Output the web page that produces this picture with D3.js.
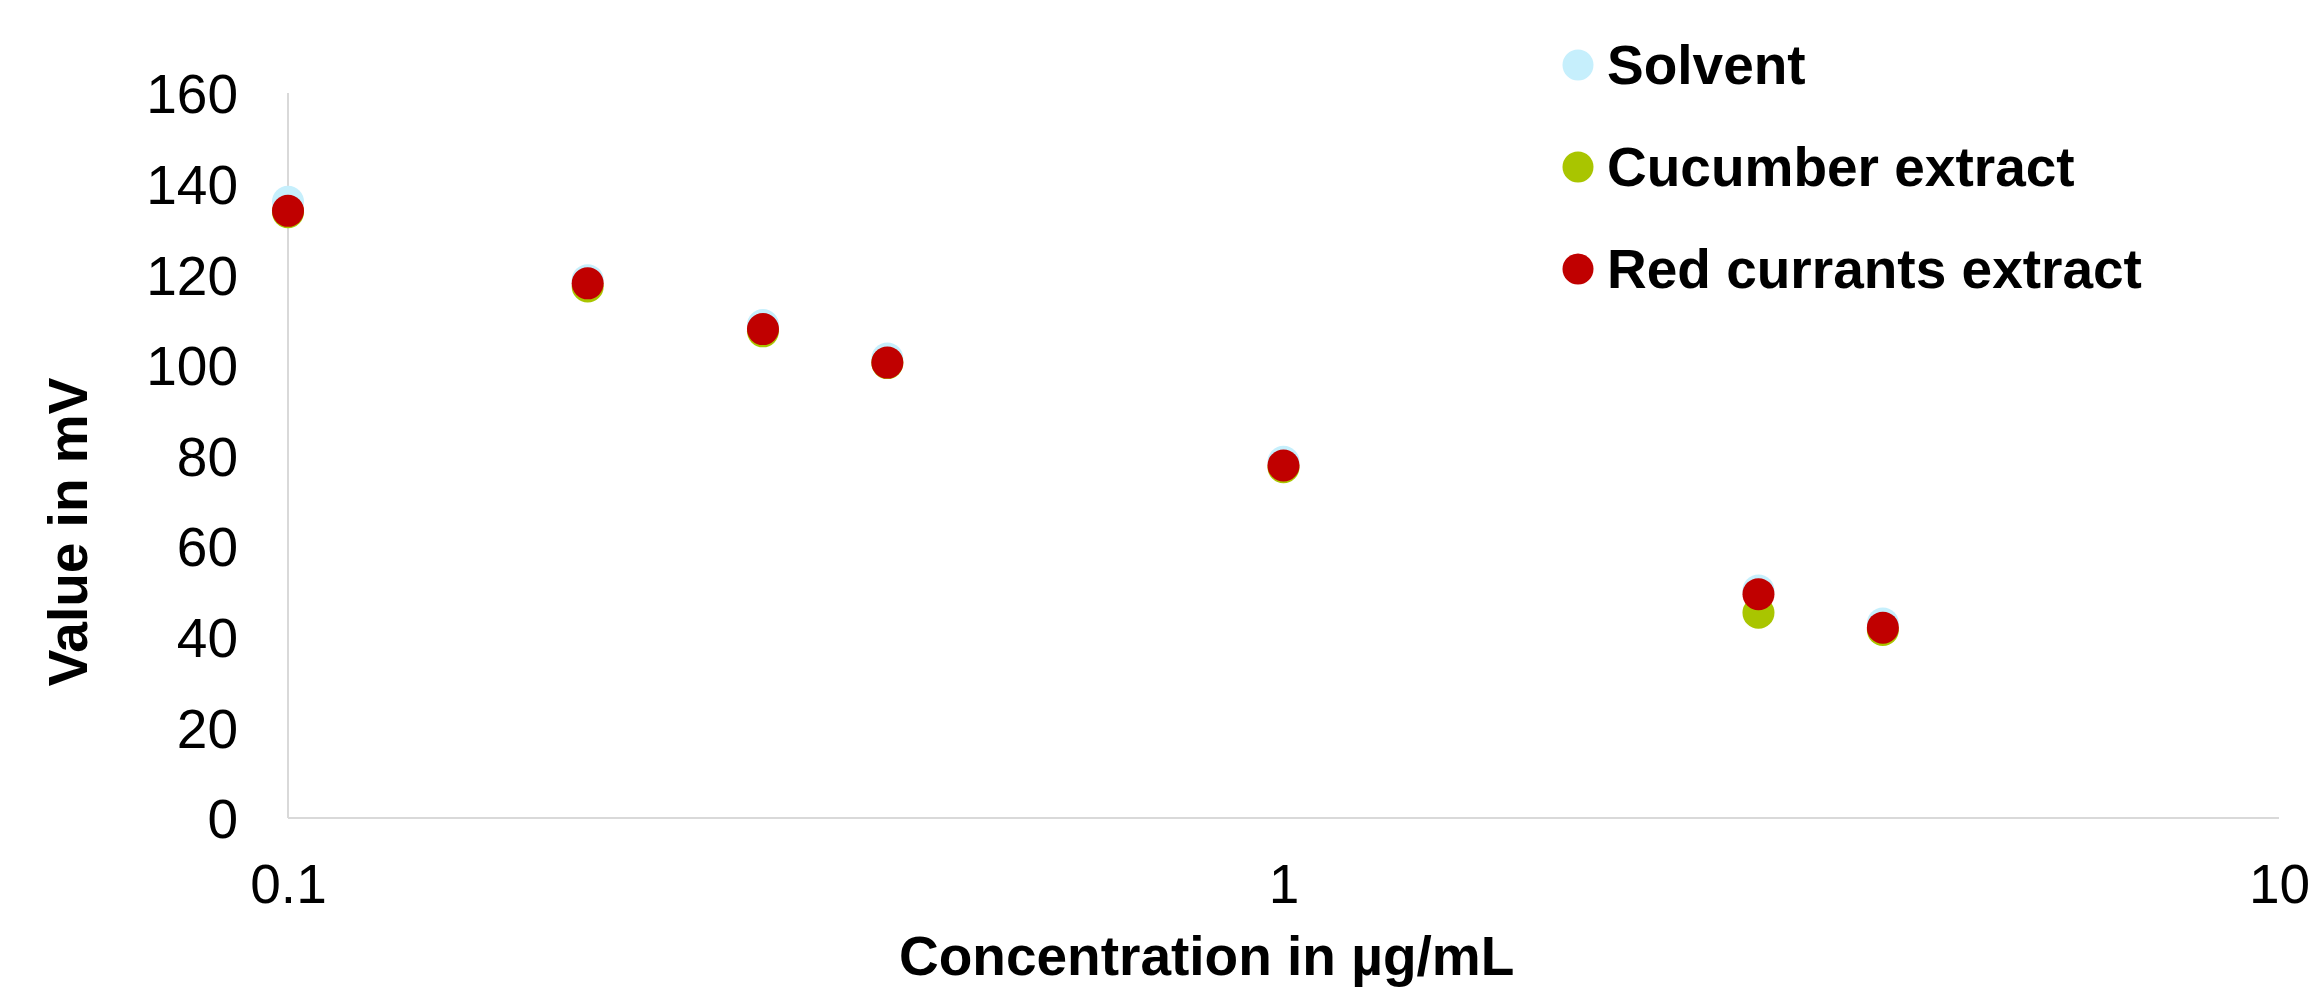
<!DOCTYPE html>
<html>
<head>
<meta charset="utf-8">
<script src="https://cdn.jsdelivr.net/npm/d3@7/dist/d3.min.js"></script>
<style>
  html, body { margin: 0; padding: 0; background: #fff; }
  svg { display: block; font-family: "Liberation Sans", Arial, sans-serif; }
</style>
</head>
<body>
<svg id="chart" width="2314" height="988"></svg>
<script>
const concentrations = [0.1, 0.2, 0.3, 0.4, 1, 3, 4];
const solventValues  = [136.0, 118.7, 108.8, 101.4, 78.6, 50.2, 42.9];
const cucumberValues = [133.7, 117.3, 107.4, 100.4, 77.4, 45.3, 41.5];
const redCurrantValues = [134.0, 118.0, 107.9, 100.5, 77.8, 49.4, 42.0];
const seriesNames = ["Solvent", "Cucumber extract", "Red currants extract"];
const seriesColors = ["#C6EFFC", "#A9C500", "#C00000"];
const xTickValues = [0.1, 1, 10];
const xTickLabels = ["0.1", "1", "10"];
const yTickValues = [0, 20, 40, 60, 80, 100, 120, 140, 160];

(function () {
const svg = d3.select("#chart");
const mLeft = 288, mRight = 2279, mTop = 93, mBottom = 818;

const x = d3.scaleLog().domain([0.1, 10]).range([mLeft, mRight]);
const y = d3.scaleLinear().domain([0, 160]).range([mBottom, mTop]);

// axes lines
svg.append("line").attr("x1", mLeft).attr("x2", mLeft).attr("y1", y(160)).attr("y2", y(0))
  .attr("stroke", "#d9d9d9").attr("stroke-width", 2);
svg.append("line").attr("x1", x(0.1)).attr("x2", x(10)).attr("y1", mBottom).attr("y2", mBottom)
  .attr("stroke", "#d9d9d9").attr("stroke-width", 2);

// y tick labels
const yAxis = d3.axisLeft(y).tickValues(yTickValues).tickSize(0).tickPadding(50);
const gy = svg.append("g").attr("transform", `translate(${mLeft},0)`).call(yAxis);
gy.select(".domain").remove();
gy.selectAll("text").attr("font-size", 55).attr("fill", "#000")
  .attr("font-family", "'Liberation Sans', Arial, sans-serif").attr("dy", "0.36em");

// x tick labels
const xAxis = d3.axisBottom(x).tickValues(xTickValues)
  .tickFormat((d, i) => xTickLabels[i]).tickSize(0).tickPadding(46);
const gx = svg.append("g").attr("transform", `translate(0,${mBottom})`).call(xAxis);
gx.select(".domain").remove();
gx.selectAll("text").attr("font-size", 55).attr("fill", "#000")
  .attr("font-family", "'Liberation Sans', Arial, sans-serif").attr("dy", "0.71em");

// points
const allSeries = [solventValues, cucumberValues, redCurrantValues];
allSeries.forEach((vals, si) => {
  svg.append("g").selectAll("circle").data(vals).join("circle")
    .attr("cx", (d, i) => x(concentrations[i]))
    .attr("cy", d => y(d))
    .attr("r", 16)
    .attr("fill", seriesColors[si]);
});

// axis titles
svg.append("text").attr("x", 899).attr("y", 975)
  .attr("font-size", 55).attr("font-weight", "bold").attr("fill", "#000")
  .text("Concentration in µg/mL");

svg.append("text")
  .attr("transform", "translate(87,532) rotate(-90)")
  .attr("text-anchor", "middle")
  .attr("font-size", 55).attr("font-weight", "bold").attr("fill", "#000")
  .text("Value in mV");

// legend
const legendY = [84, 186, 288];
const lg = svg.append("g");
seriesNames.forEach((name, i) => {
  lg.append("circle").attr("cx", 1578).attr("cy", legendY[i] - 19).attr("r", 15.5)
    .attr("fill", seriesColors[i]);
  lg.append("text").attr("x", 1607).attr("y", legendY[i])
    .attr("font-size", 55).attr("font-weight", "bold").attr("fill", "#000")
    .text(name);
});
})();
</script>
</body>
</html>
